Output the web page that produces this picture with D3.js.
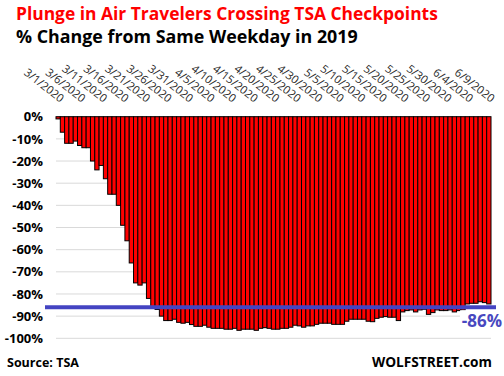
<!DOCTYPE html>
<html>
<head>
<meta charset="utf-8">
<script src="https://cdn.jsdelivr.net/npm/d3@7"></script>
<style>
  body { margin: 0; background: #fff; }
  svg { display: block; }
</style>
</head>
<body>
<svg id="chart" width="504" height="376"></svg>
<script>
/*** DATA ***/
var firstDay = new Date(2020, 2, 1);
var lastDay = new Date(2020, 5, 9);
var days = d3.timeDay.range(firstDay, d3.timeDay.offset(lastDay, 1));

// % change vs same weekday 2019, one value per day from 3/1 to 6/9
var pctChange = [
  -1, -7, -12, -12, -11, -13, -14, -14, -20, -24,
  -22, -28, -35, -35, -40, -49, -56, -66, -75, -76,
  -75, -82, -86.5, -87, -90, -92, -92, -91.4, -92.8, -93.2,
  -92.8, -93.8, -94.6, -94.6, -94.1, -95, -95.5, -95.5, -95.5, -95.9,
  -95.9, -95.5, -96.4, -95.9, -95.9, -95.9, -96.4, -95.5, -95.2, -95.5,
  -95.9, -95.9, -95.5, -95.5, -95, -94.1, -94.4, -95, -94.4, -94.4,
  -93.7, -93.2, -93.2, -93.2, -93.7, -93.7, -93.7, -92.3, -91.4, -91.4,
  -91.4, -91.4, -92.3, -92.5, -91, -90.5, -90.2, -90.5, -90.5, -92,
  -88.1, -87.5, -87.2, -88.1, -87.2, -86.9, -89.2, -88.4, -87.2, -87.5,
  -87.5, -87.2, -88.1, -87.5, -87.2, -84.5, -84.2, -84.2, -83.5, -83.9,
  -84.5
];

var yTicks = [0, -10, -20, -30, -40, -50, -60, -70, -80, -90, -100];
var latestLevel = -86;
var latestLabel = '-86%';

var titleText = 'Plunge in Air Travelers Crossing TSA Checkpoints';
var subtitleText = '% Change from Same Weekday in 2019';
var sourceText = 'Source: TSA';
var brandText = 'WOLFSTREET.com';

/*** SETUP ***/
var svg = d3.select('#chart');
var font = '"Open Sans", "Noto Sans", sans-serif';

var x = d3.scaleBand()
  .domain(days)
  .range([56, 491])
  .padding(0);

var y = d3.scaleLinear()
  .domain([0, -100])
  .range([116.7, 338.3]);

//shrink/grow text so it spans a given width
function fitText(sel, width) {
  var w = sel.node().getComputedTextLength();
  var fs = parseFloat(sel.attr('font-size'));
  sel.attr('font-size', fs * width / w);
}

//titles
svg.append('text')
  .attr('x', 16).attr('y', 20)
  .attr('font-family', font).attr('font-weight', 'bold')
  .attr('font-size', 18).attr('fill', '#ff0000')
  .text(titleText)
  .call(fitText, 422);

svg.append('text')
  .attr('x', 16).attr('y', 43)
  .attr('font-family', font).attr('font-weight', 'bold')
  .attr('font-size', 17).attr('fill', '#000')
  .text(subtitleText)
  .call(fitText, 342);

//gridlines
svg.append('g')
  .selectAll('line')
  .data(yTicks)
  .join('line')
  .attr('x1', 56).attr('x2', 491)
  .attr('y1', function(d) { return y(d); })
  .attr('y2', function(d) { return y(d); })
  .attr('stroke', '#d9d9d9')
  .attr('stroke-width', 1);

//y axis labels
var yAxis = d3.axisLeft(y)
  .tickValues(yTicks)
  .tickSize(0)
  .tickPadding(0)
  .tickFormat(function(d) { return d + '%'; });

var yG = svg.append('g')
  .attr('transform', 'translate(43,0)')
  .call(yAxis);
yG.select('.domain').remove();
yG.selectAll('text')
  .attr('font-family', font)
  .attr('font-weight', 'bold')
  .attr('font-size', 13)
  .attr('fill', '#000');

//bars
svg.append('g')
  .selectAll('rect')
  .data(days)
  .join('rect')
  .attr('x', function(d) { return x(d); })
  .attr('y', y(0))
  .attr('width', x.bandwidth())
  .attr('height', function(d, i) { return y(pctChange[i]) - y(0); })
  .attr('fill', '#ff0000')
  .attr('stroke', '#000')
  .attr('stroke-width', 1);

//x tick labels, every 5 days
var fmt = d3.timeFormat('%-m/%-d/%Y');
var tickDays = days.filter(function(d, i) { return i % 5 == 0; });

var xLabels = svg.append('g')
  .selectAll('text')
  .data(tickDays)
  .join('text')
  .attr('transform', function(d) {
    return 'translate(' + (x(d) + x.bandwidth() / 2 + 2) + ',103) rotate(38)';
  })
  .attr('text-anchor', 'end')
  .attr('font-family', font)
  .attr('font-size', 11)
  .attr('fill', '#262626')
  .text(function(d) { return fmt(d); });

//size all tick labels so "3/1/2020" is ~47px long
var first = d3.select(xLabels.nodes()[0]);
first.call(fitText, 47);
xLabels.attr('font-size', first.attr('font-size'));

//latest level line
svg.append('line')
  .attr('x1', 45).attr('x2', 496)
  .attr('y1', y(latestLevel)).attr('y2', y(latestLevel))
  .attr('stroke', '#4444c2')
  .attr('stroke-width', 4);

svg.append('rect')
  .attr('x', 460).attr('y', y(latestLevel) + 3)
  .attr('width', 44).attr('height', 24)
  .attr('fill', '#fff');

svg.append('text')
  .attr('x', 502).attr('y', y(latestLevel) + 20)
  .attr('text-anchor', 'end')
  .attr('font-family', font).attr('font-weight', 'bold')
  .attr('font-size', 17).attr('fill', '#4848c0')
  .text(latestLabel);

//footer
svg.append('text')
  .attr('x', 7).attr('y', 367)
  .attr('font-family', font).attr('font-weight', 'bold')
  .attr('font-size', 12).attr('fill', '#000')
  .text(sourceText)
  .call(fitText, 72);

svg.append('text')
  .attr('x', 372).attr('y', 367)
  .attr('font-family', font).attr('font-weight', 'bold')
  .attr('font-size', 14).attr('fill', '#000')
  .text(brandText)
  .call(fitText, 120);
</script>
</body>
</html>
